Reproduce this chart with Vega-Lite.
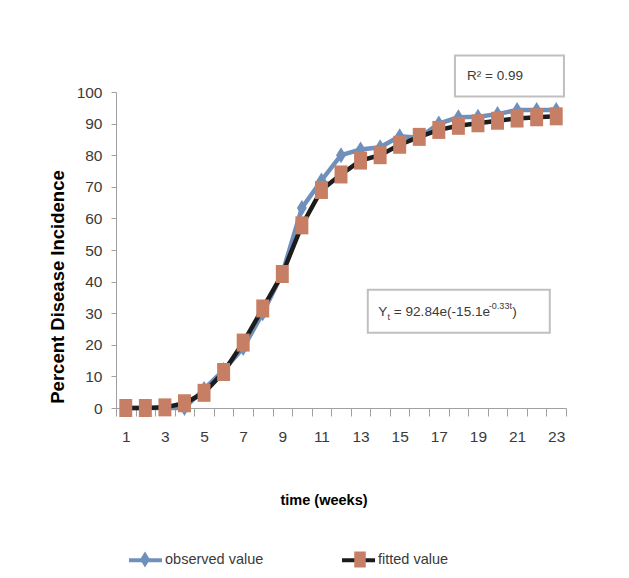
{
  "$schema": "https://vega.github.io/schema/vega-lite/v6.json",
  "width": 450,
  "height": 316,
  "autosize": "none",
  "padding": {"left": 116, "top": 92, "right": 63, "bottom": 170},
  "background": "white",
  "config": {"view": {"stroke": null}, "font": "Liberation Sans, Arial, sans-serif"},
  "data": {"values": [
    {"week": 1, "value": 0, "series": "observed value"},
    {"week": 2, "value": 0, "series": "observed value"},
    {"week": 3, "value": 0, "series": "observed value"},
    {"week": 4, "value": 0, "series": "observed value"},
    {"week": 5, "value": 6, "series": "observed value"},
    {"week": 6, "value": 12, "series": "observed value"},
    {"week": 7, "value": 19, "series": "observed value"},
    {"week": 8, "value": 30, "series": "observed value"},
    {"week": 9, "value": 42.5, "series": "observed value"},
    {"week": 10, "value": 63.3, "series": "observed value"},
    {"week": 11, "value": 72, "series": "observed value"},
    {"week": 12, "value": 80, "series": "observed value"},
    {"week": 13, "value": 81.8, "series": "observed value"},
    {"week": 14, "value": 82.5, "series": "observed value"},
    {"week": 15, "value": 86, "series": "observed value"},
    {"week": 16, "value": 85.5, "series": "observed value"},
    {"week": 17, "value": 90, "series": "observed value"},
    {"week": 18, "value": 92, "series": "observed value"},
    {"week": 19, "value": 92.2, "series": "observed value"},
    {"week": 20, "value": 93, "series": "observed value"},
    {"week": 21, "value": 94.3, "series": "observed value"},
    {"week": 22, "value": 94.3, "series": "observed value"},
    {"week": 23, "value": 94.3, "series": "observed value"},
    {"week": 1, "value": 0, "series": "fitted value"},
    {"week": 2, "value": 0, "series": "fitted value"},
    {"week": 3, "value": 0.2, "series": "fitted value"},
    {"week": 4, "value": 1.5, "series": "fitted value"},
    {"week": 5, "value": 4.8, "series": "fitted value"},
    {"week": 6, "value": 11.4, "series": "fitted value"},
    {"week": 7, "value": 20.7, "series": "fitted value"},
    {"week": 8, "value": 31.5, "series": "fitted value"},
    {"week": 9, "value": 42.4, "series": "fitted value"},
    {"week": 10, "value": 57.8, "series": "fitted value"},
    {"week": 11, "value": 69, "series": "fitted value"},
    {"week": 12, "value": 73.9, "series": "fitted value"},
    {"week": 13, "value": 78.3, "series": "fitted value"},
    {"week": 14, "value": 80, "series": "fitted value"},
    {"week": 15, "value": 83.3, "series": "fitted value"},
    {"week": 16, "value": 85.8, "series": "fitted value"},
    {"week": 17, "value": 88, "series": "fitted value"},
    {"week": 18, "value": 89.3, "series": "fitted value"},
    {"week": 19, "value": 90.1, "series": "fitted value"},
    {"week": 20, "value": 90.9, "series": "fitted value"},
    {"week": 21, "value": 91.6, "series": "fitted value"},
    {"week": 22, "value": 92, "series": "fitted value"},
    {"week": 23, "value": 92.3, "series": "fitted value"}
  ]},
  "encoding": {
    "x": {
      "field": "week", "type": "quantitative",
      "scale": {"domain": [0.5, 23.5], "nice": false, "zero": false},
      "axis": {
        "title": "time (weeks)",
        "grid": false,
        "values": [0.5,1,1.5,2,2.5,3,3.5,4,4.5,5,5.5,6,6.5,7,7.5,8,8.5,9,9.5,10,10.5,11,11.5,12,12.5,13,13.5,14,14.5,15,15.5,16,16.5,17,17.5,18,18.5,19,19.5,20,20.5,21,21.5,22,22.5,23,23.5],
        "labelExpr": "datum.value % 2 == 1 ? format(datum.value, 'd') : ''",
        "tickOpacity": {"condition": {"test": "datum.value % 1 != 0", "value": 1}, "value": 0},
        "labelOverlap": false, "labelFlush": false, "labelBound": false,
        "tickSize": 8, "tickColor": "#a0a0a0", "domainColor": "#a0a0a0",
        "labelFontSize": 15.5, "labelColor": "#3a3a3a", "labelPadding": 13,
        "titleFontSize": 14.5, "titleFontWeight": "bold", "titleColor": "#000000",
        "titleX": 207.5, "titleY": 92.5, "titleAlign": "center", "titleBaseline": "middle"
      }
    },
    "y": {
      "field": "value", "type": "quantitative",
      "scale": {"domain": [0, 100], "nice": false},
      "axis": {
        "title": "Percent Disease Incidence",
        "grid": false,
        "values": [0,10,20,30,40,50,60,70,80,90,100],
        "tickSize": 5, "tickColor": "#a0a0a0", "domainColor": "#a0a0a0",
        "labelFontSize": 15.5, "labelColor": "#3a3a3a", "labelPadding": 9,
        "titleFontSize": 18.5, "titleFontWeight": "bold", "titleColor": "#000000",
        "titleX": -58.5, "titleY": 194.5, "titleAngle": -90, "titleAlign": "center", "titleBaseline": "middle"
      }
    }
  },
  "layer": [
    {
      "transform": [{"filter": "datum.series == 'observed value'"}],
      "mark": {"type": "line", "strokeWidth": 4.5},
      "encoding": {
        "stroke": {
          "field": "series", "type": "nominal",
          "scale": {"domain": ["observed value", "fitted value"], "range": ["#7090bc", "#1c1c1c"]},
          "legend": {
            "title": null, "orient": "none", "legendX": 11, "legendY": 449.5, "direction": "horizontal",
            "symbolType": "M-1,0H1", "symbolSize": 1089, "symbolStrokeWidth": 4,
            "labelFontSize": 14.5, "labelColor": "#3a3a3a", "labelOffset": 1,
            "columnPadding": 70, "padding": 0, "labelLimit": 300
          }
        }
      }
    },
    {
      "transform": [{"filter": "datum.series == 'observed value'"}],
      "mark": {"type": "point", "filled": true, "size": 256, "opacity": 1, "strokeWidth": 0},
      "encoding": {
        "fill": {
          "field": "series", "type": "nominal", "sort": ["observed value", "fitted value"],
          "scale": {"range": ["#7090bc", "#c67f64"]},
          "legend": {
            "title": null, "orient": "none", "legendX": 11, "legendY": 459.5, "direction": "horizontal",
            "symbolSize": 256, "symbolStrokeWidth": 0, "symbolOffset": 10, "symbolOpacity": 1,
            "labelFontSize": 14.5, "labelOffset": 21, "labelExpr": "''",
            "columnPadding": 168, "padding": 0,
            "encode": {"symbols": {"update": {"shape": {"signal": "datum.value == 'observed value' ? 'M0,-1L0.62,0L0,1L-0.62,0Z' : 'M-0.72,-1H0.72V1H-0.72Z'"}}}}
          }
        },
        "shape": {
          "field": "series", "type": "nominal", "sort": ["observed value", "fitted value"],
          "scale": {"range": ["M0,-1L0.62,0L0,1L-0.62,0Z", "M-0.72,-1H0.72V1H-0.72Z"]},
          "legend": null
        }
      }
    },
    {
      "transform": [{"filter": "datum.series == 'fitted value'"}],
      "mark": {"type": "line", "strokeWidth": 4.5},
      "encoding": {
        "stroke": {"field": "series", "type": "nominal"}
      }
    },
    {
      "transform": [{"filter": "datum.series == 'fitted value'"}],
      "mark": {"type": "point", "filled": true, "size": 324, "opacity": 1, "strokeWidth": 0},
      "encoding": {
        "fill": {"field": "series", "type": "nominal", "sort": ["observed value", "fitted value"]},
        "shape": {"field": "series", "type": "nominal", "sort": ["observed value", "fitted value"], "legend": null}
      }
    },
    {
      "data": {"values": [
        {"week": 20.61, "value": 105.1, "box": "r2"}
      ]},
      "mark": {"type": "point", "shape": "M-1,-0.376H1V0.376H-1Z", "size": 11881, "filled": false, "fill": "white", "fillOpacity": 1, "stroke": "#c0c0c0", "strokeWidth": 2, "opacity": 1}
    },
    {
      "data": {"values": [
        {"week": 18.02, "value": 30.6, "box": "eq"}
      ]},
      "mark": {"type": "point", "shape": "M-1,-0.236H1V0.236H-1Z", "size": 33124, "filled": false, "fill": "white", "fillOpacity": 1, "stroke": "#c0c0c0", "strokeWidth": 2, "opacity": 1}
    },
    {
      "data": {"values": [
        {"week": 18.44, "value": 105.1, "label": "R² = 0.99"}
      ]},
      "mark": {"type": "text", "align": "left", "baseline": "middle", "fontSize": 13.5, "color": "#3a3a3a"},
      "encoding": {"text": {"field": "label", "type": "nominal"}}
    },
    {
      "data": {"values": [{"week": 13.91, "value": 30.5, "label": "Y"}]},
      "mark": {"type": "text", "align": "left", "baseline": "middle", "fontSize": 13.6, "color": "#3a3a3a"},
      "encoding": {"text": {"field": "label", "type": "nominal"}}
    },
    {
      "data": {"values": [{"week": 13.91, "value": 30.5, "label": "t"}]},
      "mark": {"type": "text", "align": "left", "baseline": "middle", "fontSize": 9, "dx": 9.1, "dy": 5, "color": "#3a3a3a"},
      "encoding": {"text": {"field": "label", "type": "nominal"}}
    },
    {
      "data": {"values": [{"week": 13.91, "value": 30.5, "label": "= 92.84e(-15.1e"}]},
      "mark": {"type": "text", "align": "left", "baseline": "middle", "fontSize": 13.6, "dx": 15.4, "color": "#3a3a3a"},
      "encoding": {"text": {"field": "label", "type": "nominal"}}
    },
    {
      "data": {"values": [{"week": 13.91, "value": 30.5, "label": "-0.33t"}]},
      "mark": {"type": "text", "align": "left", "baseline": "middle", "fontSize": 9, "dx": 110.5, "dy": -6, "color": "#3a3a3a"},
      "encoding": {"text": {"field": "label", "type": "nominal"}}
    },
    {
      "data": {"values": [{"week": 13.91, "value": 30.5, "label": ")"}]},
      "mark": {"type": "text", "align": "left", "baseline": "middle", "fontSize": 13.6, "dx": 134, "color": "#3a3a3a"},
      "encoding": {"text": {"field": "label", "type": "nominal"}}
    }
  ]
}
